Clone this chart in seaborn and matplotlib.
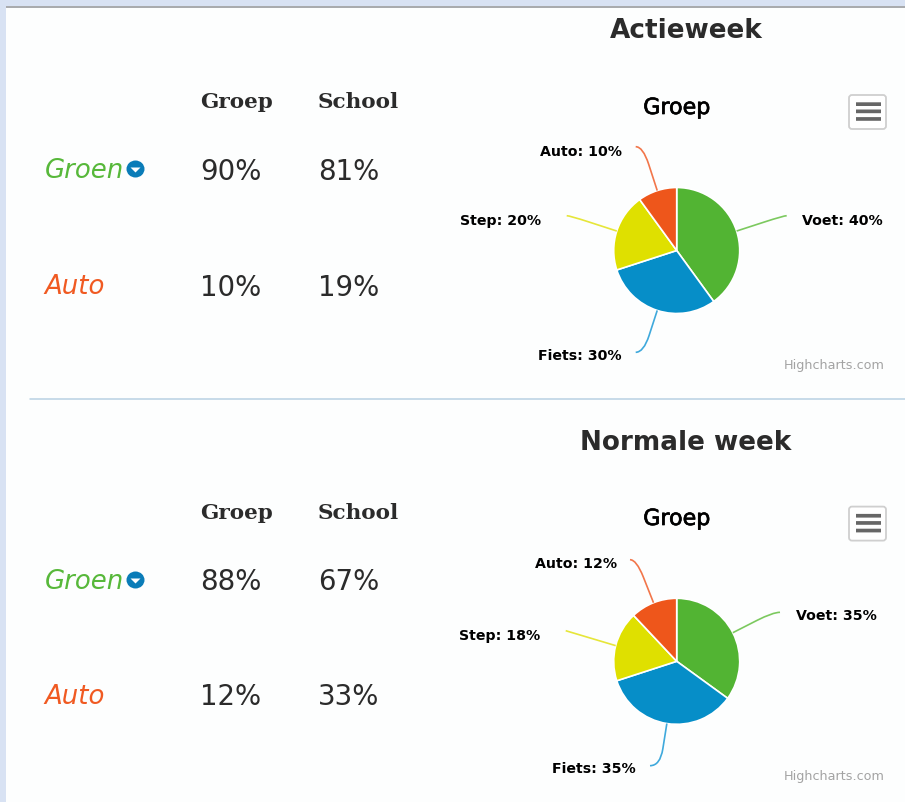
import numpy as np
import matplotlib
matplotlib.use("Agg")
import matplotlib.pyplot as plt
import matplotlib.patheffects as pe
from matplotlib.patches import Rectangle, FancyBboxPatch, Ellipse, Polygon, PathPatch
from matplotlib.path import Path
import seaborn as sns

# ---- data ----
slices = ["Voet", "Fiets", "Step", "Auto"]
actie_groep = [40, 30, 20, 10]
normaal_groep = [35, 35, 18, 12]
rows = ["Groen", "Auto"]
columns = ["Groep", "School"]
actie_groen = [90, 81]
actie_auto = [10, 19]
normaal_groen = [88, 67]
normaal_auto = [12, 33]
titles = ["Actieweek", "Normale week"]

palette = sns.color_palette(["#52b433", "#068ec8", "#dfe000", "#ee561b"])
line_cols = ["#7cc95f", "#3fa9dc", "#e6e63a", "#f2764a"]
GREEN, ORANGE, BLUE = "#57b83a", "#f05a22", "#0a7cb8"
INK = "#2b2b2b"

W, H = 905, 803
sns.set_theme(style="white")
plt.rcParams["font.family"] = ["DejaVu Sans"]
fig = plt.figure(figsize=(W / 100, H / 100), dpi=100, facecolor="#fdfefe")
ax = fig.add_axes([0, 0, 1, 1])


def Y(p):
    return H - p


def px(s):
    return s * 0.72


def txt(x, y, s, size, **kw):
    kw.setdefault("va", "center")
    kw.setdefault("ha", "left")
    return ax.text(x, Y(y), s, fontsize=px(size), **kw)


# page chrome
ax.add_patch(Rectangle((0, 0), 6, H, color="#d8e2f3", lw=0, zorder=5))
ax.add_patch(Rectangle((0, Y(7)), W, 7, color="#d8e2f3", lw=0, zorder=5))
ax.add_patch(Rectangle((6, Y(9)), W, 2, color="#a9abae", lw=0, zorder=5))
ax.plot([30, W], [Y(400), Y(400)], color="#b9d1e3", lw=1.1)

R = 63
CX = 676.7


def block(dy, cy, title, title_y, groen, auto, values, label_pos):
    txt(686, title_y, title, 26.2, ha="center", weight="bold", color=INK)
    for x, c in zip([200, 318], columns):
        txt(x, 102 + dy, c, 21.5, family="DejaVu Serif", weight="bold", color=INK)
    row2 = 287 + dy - (1 if dy else 0)
    txt(45, 171.5 + dy, rows[0], 26, style="italic", color=GREEN)
    txt(44, row2 + 0.5, rows[1], 26, style="italic", color=ORANGE)
    for x, a, b in zip([200, 318], groen, auto):
        txt(x, 171.5 + dy, f"{a}%", 27.6, color=INK)
        txt(x, row2 + 0.5, f"{b}%", 27.6, color=INK)
    # dropdown icon
    iy = 170 + dy
    ax.add_patch(Ellipse((135.5, Y(iy)), 18, 17, color=BLUE, lw=0))
    ax.add_patch(Polygon([(130.5, Y(iy - 1.5)), (140.5, Y(iy - 1.5)), (135.5, Y(iy + 3.5))],
                         color="white", lw=0, zorder=4))
    # pie
    ax.pie(values, colors=palette, startangle=90, counterclock=False, radius=R,
           center=(CX, Y(cy)), frame=True,
           wedgeprops=dict(edgecolor="white", linewidth=1.2))
    # chart title
    t = txt(CX, 109 + dy, columns[0], 22.2, ha="center", color="black")
    t.set_path_effects([pe.withStroke(linewidth=0.5, foreground="black")])
    # connectors + labels
    cum = np.cumsum(values) - np.array(values) / 2
    for name, v, c, lc, (ex, ey, side, lx, ly) in zip(slices, values, cum, line_cols, label_pos):
        a = np.deg2rad(c / sum(values) * 360)
        dx, dyy = np.sin(a), np.cos(a)
        sx, sy = CX + R * dx, Y(cy) + R * dyy
        ey_d = Y(ey)
        t = (ey_d - sy) / dyy
        cx = sx + t * dx
        if (cx - ex) * np.sign(dx) >= 0:       # ray overshoots the end: plain line
            path = Path([(sx, sy), (ex, ey_d)], [Path.MOVETO, Path.LINETO])
        else:
            mid = (sx + 0.6 * t * dx, sy + 0.6 * t * dyy)
            path = Path([(sx, sy), mid, (cx, ey_d), (ex, ey_d)],
                        [Path.MOVETO, Path.LINETO, Path.CURVE3, Path.CURVE3])
        ax.add_patch(PathPatch(path, fc="none", ec=lc, lw=1.2, zorder=3))
        txt(lx, ly, f"{name}: {v}%", 14.1, ha=side, weight="bold", color="black")
    # menu button
    top = 96 + dy + (0.6 if dy else 0)
    ax.add_patch(FancyBboxPatch((851, Y(top + 32)), 33, 30,
                                boxstyle="round,pad=2,rounding_size=3",
                                fc="white", ec="#cfcfcf", lw=1.3))
    for b in (9.2, 16.4, 24):
        bar = Rectangle((856, Y(top + b) - 1.8), 25, 3.7, color="#666666", lw=0)
        bar.set_snap(False)
        ax.add_patch(bar)
    txt(884.5, 366 + dy, "Highcharts.com", 12.7, ha="right", color="#a3a3a3")


block(0, 251.5, titles[0], 31, actie_groen, actie_auto, actie_groep, [
    (786.7, 216.7, "left", 801.7, 221),
    (635.7, 353.3, "right", 621.7, 356),
    (566.7, 216.7, "right", 540.7, 221),
    (635.7, 147.7, "right", 621.7, 152.3),
])
block(411, 662.3, titles[1], 443, normaal_groen, normaal_auto, normaal_groep, [
    (780, 613.3, "left", 796, 616),
    (650, 766.7, "right", 636, 769.3),
    (565.7, 631.7, "right", 540.7, 635.7),
    (630, 560.7, "right", 617, 564),
])

ax.set_xlim(0, W)
ax.set_ylim(0, H)
ax.set_aspect("auto")
ax.axis("off")
fig.savefig("out.png", dpi=100, facecolor=fig.get_facecolor())
